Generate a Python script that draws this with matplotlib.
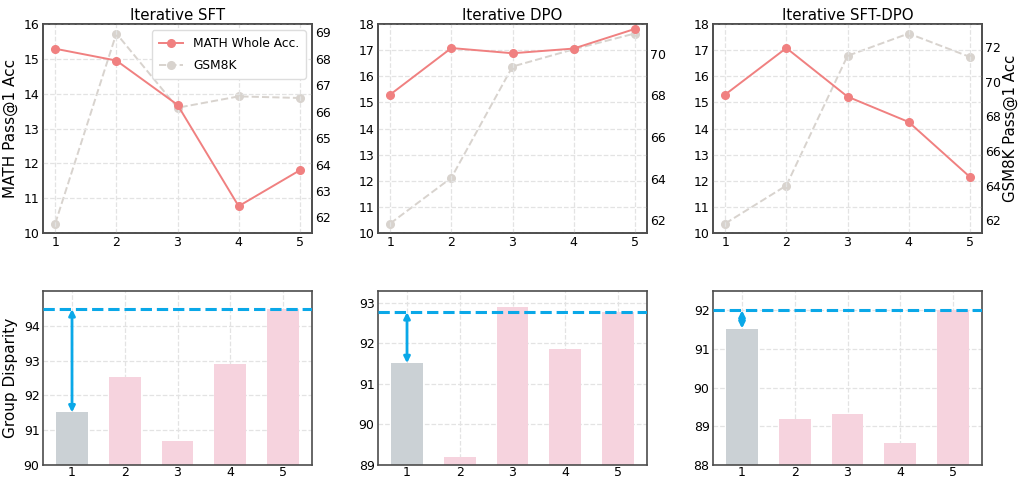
import matplotlib
matplotlib.use("Agg")
import matplotlib.pyplot as plt

iterations = [1, 2, 3, 4, 5]
titles = ["Iterative SFT", "Iterative DPO", "Iterative SFT-DPO"]

math_sft = [15.29, 14.95, 13.68, 10.77, 11.80]
math_dpo = [15.30, 17.08, 16.88, 17.06, 17.81]
math_sftdpo = [15.30, 17.08, 15.22, 14.25, 12.15]

gsm_sft = [61.77, 68.96, 66.15, 66.58, 66.52]
gsm_dpo = [61.84, 64.04, 69.39, 70.22, 70.98]
gsm_sftdpo = [61.81, 64.00, 71.48, 72.77, 71.42]

disp_sft = [91.51, 92.54, 90.70, 92.89, 94.48]
disp_dpo = [91.51, 89.20, 92.89, 91.87, 92.77]
disp_sftdpo = [91.53, 89.20, 89.31, 88.58, 92.00]

math_all = [math_sft, math_dpo, math_sftdpo]
gsm_all = [gsm_sft, gsm_dpo, gsm_sftdpo]
disp_all = [disp_sft, disp_dpo, disp_sftdpo]

math_ylims = [(10, 16), (10, 18), (10, 18)]
math_yticks = [list(range(10, 17)), list(range(10, 19)), list(range(10, 19))]
gsm_yticks = [list(range(62, 70)), [62, 64, 66, 68, 70], [62, 64, 66, 68, 70, 72]]
disp_ylims = [(90, 95), (89, 93.29), (88, 92.5)]
disp_yticks = [[90, 91, 92, 93, 94], [89, 90, 91, 92, 93], [88, 89, 90, 91, 92]]

c_math = "#F08080"
c_gsm = "#D8D3CE"
c_bar = "#F6D3DE"
c_base = "#CBD1D5"
c_blue = "#0AA8E8"
c_spine = "#4D4D4D"

fig = plt.figure(figsize=(10.18, 4.79), dpi=100)
W, H = 1018, 479
lefts = [43, 378, 713]
width = 269

def style(ax):
    for s in ax.spines.values():
        s.set_color(c_spine)
        s.set_linewidth(1.2)
    ax.tick_params(length=0, labelsize=9, pad=2.5)
    ax.grid(True, linestyle="--", color="#E3E3E3", linewidth=0.9)
    ax.set_axisbelow(True)

for i in range(3):
    ax = fig.add_axes([lefts[i] / W, 1 - 233 / H, width / W, (233 - 24) / H])
    style(ax)
    l1, = ax.plot(iterations, math_all[i], "-o", color=c_math, markersize=5.5,
                  linewidth=1.4, label="MATH Whole Acc.", zorder=3)
    ax.set_ylim(*math_ylims[i])
    ax.set_yticks(math_yticks[i])
    ax.set_xticks(iterations)
    ax.set_title(titles[i], fontsize=10.8, pad=3)
    ax2 = ax.twinx()
    style(ax2)
    ax2.grid(False)
    l2, = ax2.plot(iterations, gsm_all[i], "--o", color=c_gsm, markersize=5.5,
                   linewidth=1.4, label="GSM8K", zorder=2)
    ax2.set_yticks(gsm_yticks[i])
    ax.set_zorder(ax2.get_zorder() + 1)
    ax.patch.set_visible(False)
    if i == 0:
        ax.set_ylabel("MATH Pass@1 Acc", fontsize=11, labelpad=4)
        ax.legend(handles=[l1, l2], loc="upper right", fontsize=8.8,
                  framealpha=1.0, edgecolor="#DDDDDD", fancybox=True,
                  borderpad=0.55, labelspacing=0.75, handlelength=2.0)
    if i == 2:
        ax2.set_ylabel("GSM8K Pass@1 Acc", fontsize=10.8, labelpad=1)

    axb = fig.add_axes([lefts[i] / W, 1 - 465 / H, width / W, (465 - 291) / H])
    style(axb)
    axb.tick_params(axis="x", pad=1)
    vals = disp_all[i]
    colors = [c_base] + [c_bar] * (len(vals) - 1)
    axb.bar(iterations, vals, width=0.6, color=colors, zorder=2)
    axb.set_ylim(*disp_ylims[i])
    axb.set_yticks(disp_yticks[i])
    axb.set_xticks(iterations)
    axb.set_xlim(0.45, 5.55)
    axb.axhline(vals[-1], color=c_blue, linestyle="--", linewidth=2.2, zorder=3)
    axb.annotate("", xy=(iterations[0], vals[-1]), xytext=(iterations[0], vals[0]),
                 arrowprops=dict(arrowstyle="<|-|>", color=c_blue, lw=2,
                                 mutation_scale=9, shrinkA=0, shrinkB=0),
                 zorder=4)
    if i == 0:
        axb.set_ylabel("Group Disparity", fontsize=11, labelpad=4)

fig.savefig("out.png", dpi=100)
